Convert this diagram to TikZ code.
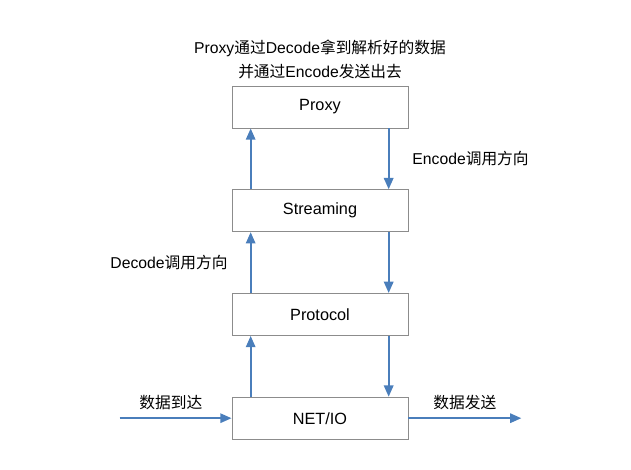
\documentclass[tikz,border=0pt]{standalone}
\usepackage{fontspec}
\setmainfont{Liberation Sans}
\newfontfamily\cjk{Noto Sans CJK SC}
\newcommand{\zh}[1]{{\cjk #1}}
\usetikzlibrary{positioning, arrows.meta}
\definecolor{flowblue}{RGB}{74,126,187}
\definecolor{boxgray}{RGB}{140,140,140}

\begin{document}
\begin{tikzpicture}[
x=0.75pt, y=0.75pt,
layerbox/.style={rectangle, draw=boxgray, line width=0.6pt, minimum width=132pt, minimum height=31.5pt, font=\fontsize{12.2}{14}\selectfont},
flow/.style={-{Triangle[length=8.5pt, width=7pt]}, draw=flowblue, line width=1.6pt},
note/.style={font=\fontsize{11.8}{18}\selectfont, inner sep=0pt},
node distance=45.7pt,
]
\useasboundingbox (0,0) rectangle (631,470);

% Defining the layers
\node[layerbox] (proxy) at (320,363) {Proxy};
\node[layerbox] (streaming) [below=of proxy] {Streaming};
\node[layerbox] (protocol) [below=of streaming] {Protocol};
\node[layerbox] (netio) [below=of protocol] {NET/IO};

% Title above the proxy
\node[note, align=center] (title) [above=4.5pt of proxy] {Proxy\zh{通过}Decode\zh{拿到解析好的数据}\\\zh{并通过}Encode\zh{发送出去}};

% Free ends of the input and output
\coordinate[left=84pt of netio.west] (arrive);
\coordinate[right=84.75pt of netio.east] (send);

% Decode direction (upwards)
\draw[flow] ([xshift=-52pt]netio.north) -- ([xshift=-52pt]protocol.south);
\draw[flow] ([xshift=-52pt]protocol.north) -- ([xshift=-52pt]streaming.south) node[midway, left=16.5pt, note] (decode) {Decode\zh{调用方向}};
\draw[flow] ([xshift=-52pt]streaming.north) -- ([xshift=-52pt]proxy.south);

% Encode direction (downwards)
\draw[flow] ([xshift=51.5pt]proxy.south) -- ([xshift=51.5pt]streaming.north) node[midway, right=17pt, note] (encode) {Encode\zh{调用方向}};
\draw[flow] ([xshift=51.5pt]streaming.south) -- ([xshift=51.5pt]protocol.north);
\draw[flow] ([xshift=51.5pt]protocol.south) -- ([xshift=51.5pt]netio.north);

% Data in and out
\draw[flow] (arrive) -- (netio) node[midway, above=5.5pt, xshift=-3.5pt, note] (arrivelabel) {\zh{数据到达}};
\draw[flow] (netio) -- (send) node[midway, above=5.5pt, note] (sendlabel) {\zh{数据发送}};

\end{tikzpicture}
\end{document}
